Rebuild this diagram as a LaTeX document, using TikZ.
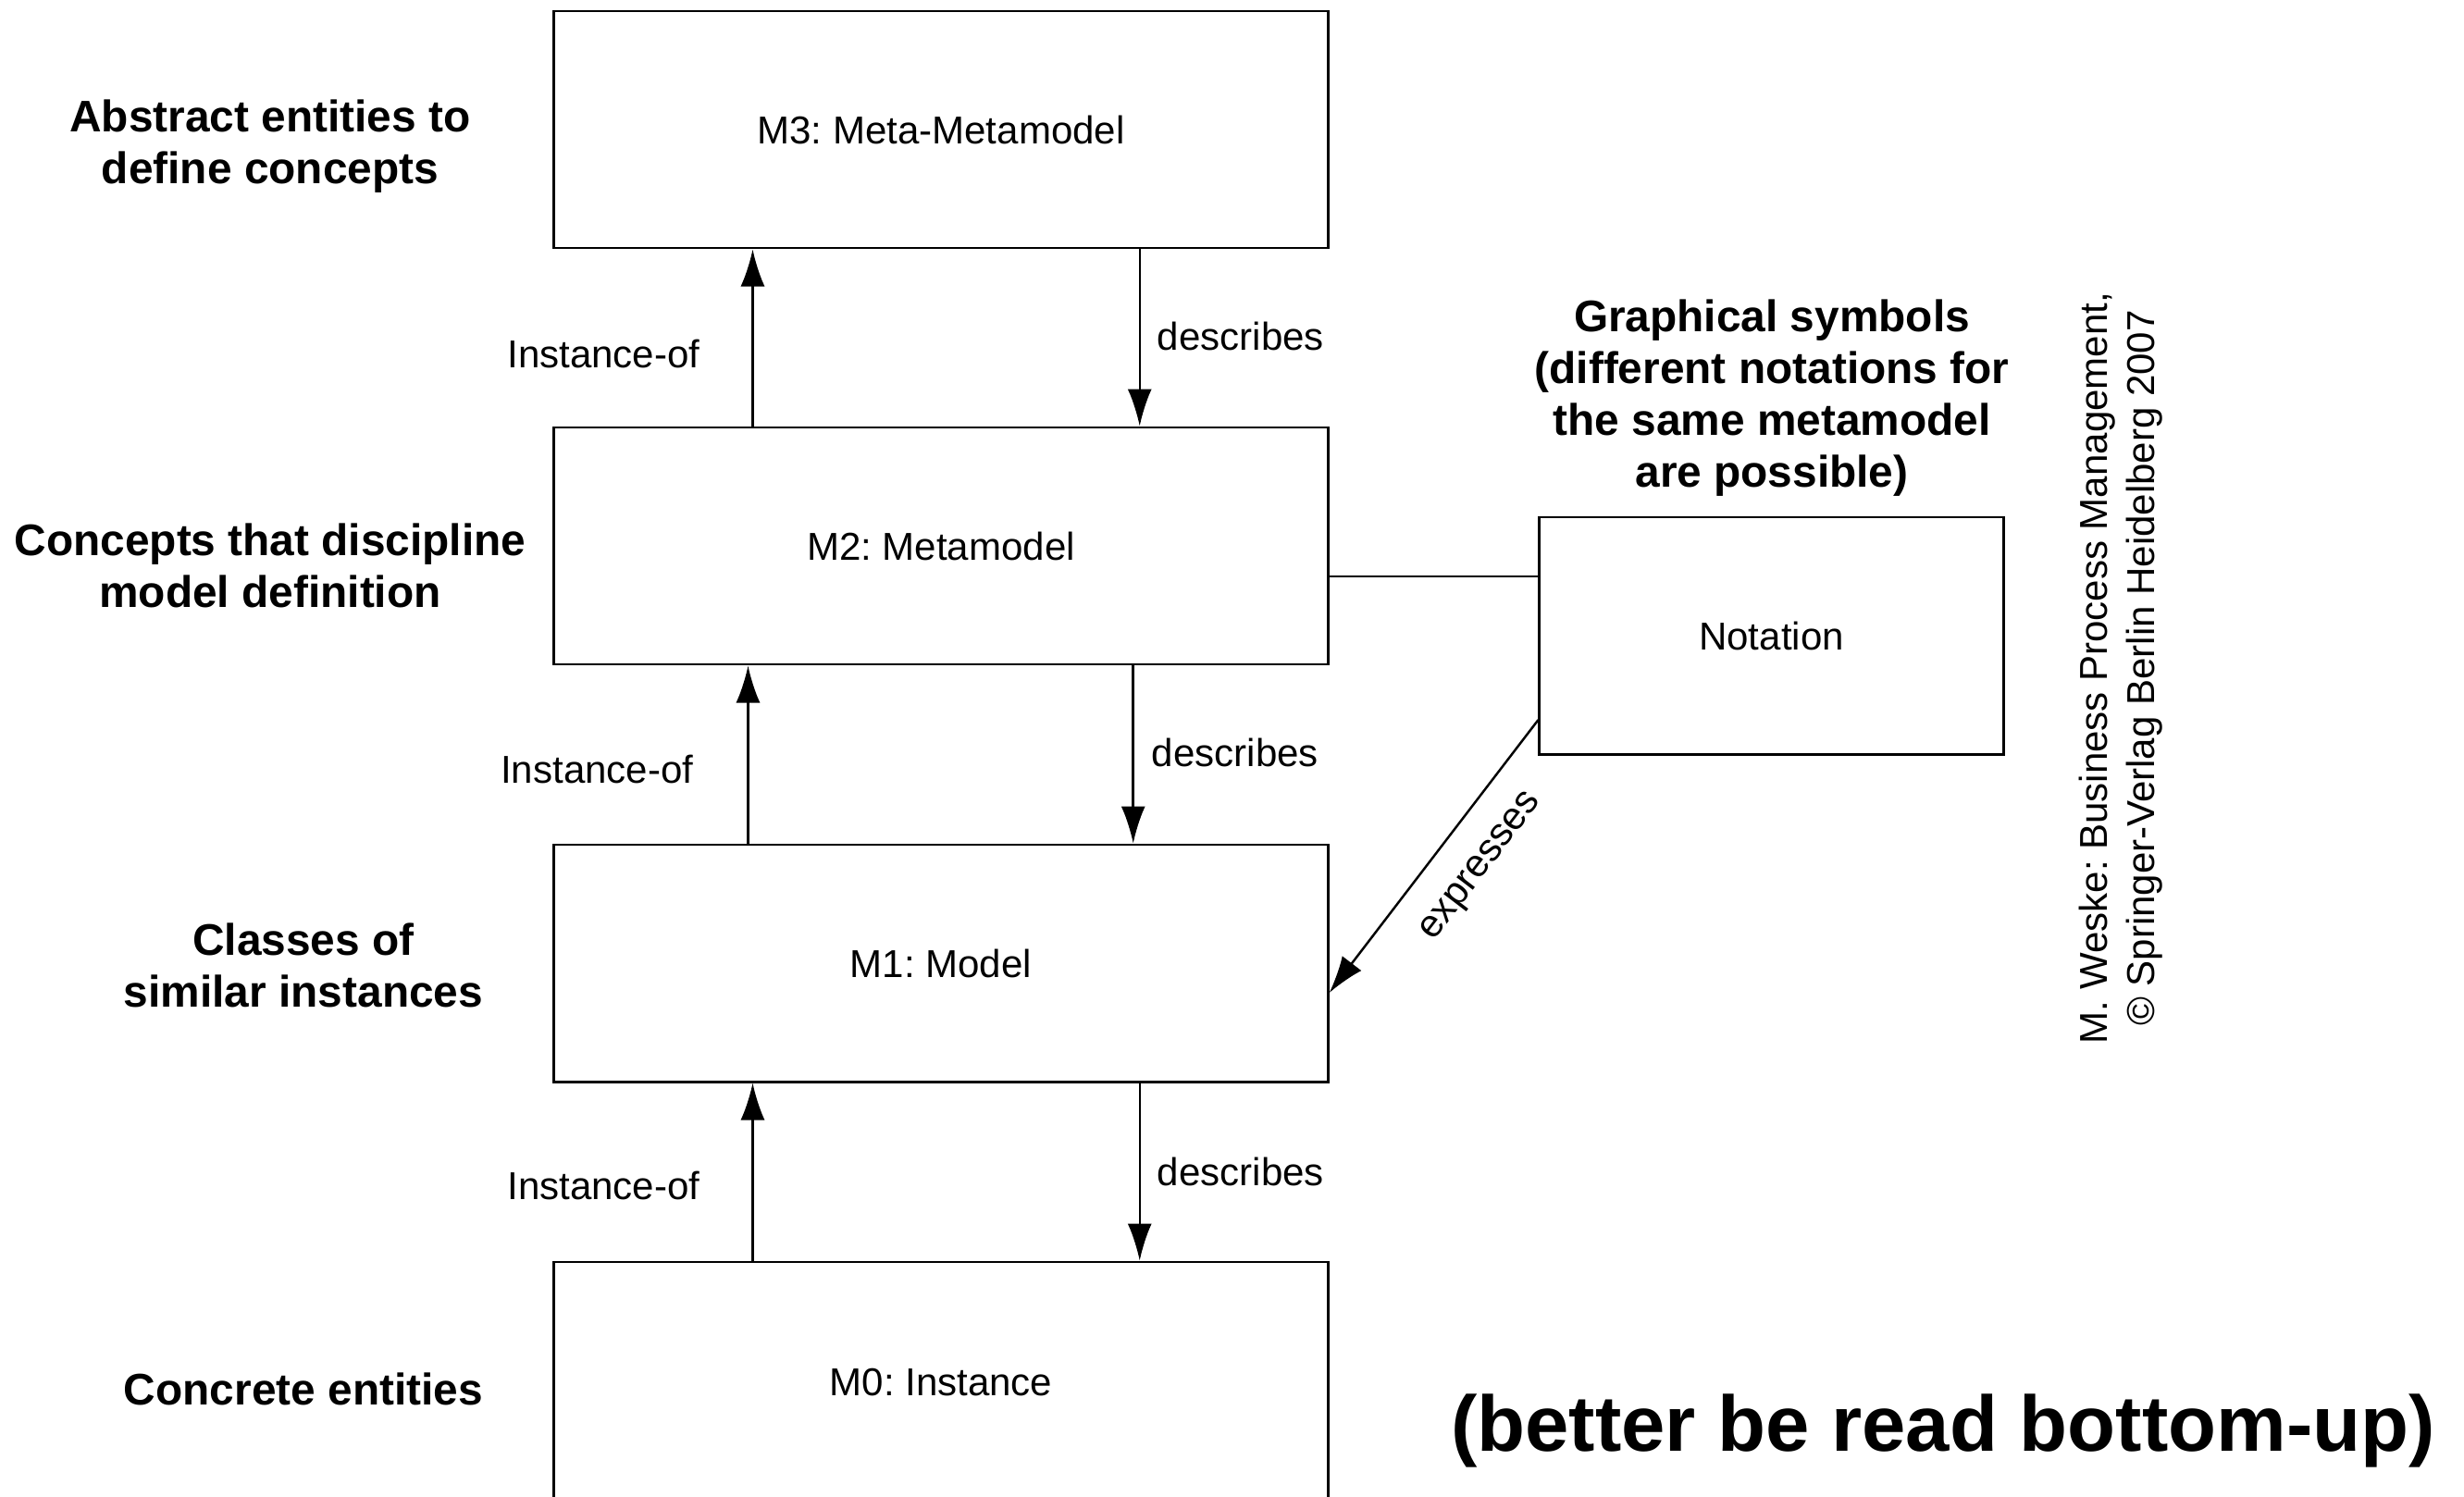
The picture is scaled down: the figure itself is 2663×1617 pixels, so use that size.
\documentclass[tikz,border=0pt]{standalone}
\usepackage{fontspec}
\setmainfont{Liberation Sans}
\usetikzlibrary{arrows.meta,positioning}
\frenchspacing
\begin{document}
\begin{tikzpicture}[x=0.01cm,y=-0.01cm,
  level/.style={draw, line width=0.8pt, minimum width=8.36cm, minimum height=2.56cm,
    inner sep=0pt, font=\fontsize{11.95}{14}\selectfont},
  side/.style={font=\bfseries\fontsize{13.6}{15.9}\selectfont, align=center},
  link/.style={line width=0.7pt},
  arr/.style={link, -{Latex[length=0.4cm,width=0.26cm]}},
  lbl/.style={font=\fontsize{11.95}{14}\selectfont, inner sep=0pt},
]
\useasboundingbox (0,0) rectangle (2663,1617);

% the four modelling levels
\node[level] (M3) at (1017,140) {M3: Meta-Metamodel};
\node[level] (M2) at (1017,590) {M2: Metamodel};
\node[level] (M1) at (1017,1041) {M1: Model};
\node[level, minimum height=2.6cm] (M0) at (1017,1494) {M0: Instance};

% notation box
\node[level, minimum width=5.01cm] (N) at (1914.5,687) {Notation};

% level descriptions
\node[side] (d3) at (292,158) {Abstract entities to\\define concepts};
\node[side] (d2) at (292,611) {Concepts that discipline\\model definition};
\node[side] (d1) at (328,1043) {Classes of\\similar instances};
\node[side] (d0) at (328,1501) {Concrete entities};

\node[side] (gs) at (1915,430) {Graphical symbols\\(different notations for\\the same metamodel\\are possible)};

% instance-of relations (upwards)
\draw[arr] ([xshift=2.16cm]M2.north west) -- ([xshift=2.16cm]M3.south west)
  node[lbl, pos=0.41, left=0.56cm] {Instance-of};
\draw[arr] ([xshift=2.11cm]M1.north west) -- ([xshift=2.11cm]M2.south west)
  node[lbl, pos=0.415, left=0.58cm] {Instance-of};
\draw[arr] ([xshift=2.16cm]M0.north west) -- ([xshift=2.16cm]M1.south west)
  node[lbl, pos=0.42, left=0.56cm] {Instance-of};

% describes relations (downwards)
\draw[arr] ([xshift=6.34cm]M3.south west) -- ([xshift=6.34cm]M2.north west)
  node[lbl, pos=0.49, right=0.18cm] {describes};
\draw[arr] ([xshift=6.27cm]M2.south west) -- ([xshift=6.27cm]M1.north west)
  node[lbl, pos=0.49, right=0.19cm] {describes};
\draw[arr] ([xshift=6.34cm]M1.south west) -- ([xshift=6.34cm]M0.north west)
  node[lbl, pos=0.5, right=0.18cm] {describes};

% notation links
\draw[link] ([yshift=-0.33cm]M2.east) -- ([yshift=-0.33cm]M2.east -| N.west);
\draw[arr] ([yshift=-0.91cm]N.west) -- ([yshift=-0.32cm]M1.east)
  node[lbl, sloped, pos=0.44, below=0.32cm] {expresses};

% source note
\node[rotate=90, align=center, font=\fontsize{11.95}{14.5}\selectfont] (src) at (2292,722)
  {M. Weske: Business Process Management,\\ \copyright{} Springer-Verlag Berlin Heidelberg 2007};

% reading hint
\node[font=\bfseries\fontsize{24.2}{29}\selectfont] (hint) at (2100,1546) {(better be read bottom-up)};
\end{tikzpicture}
\end{document}
